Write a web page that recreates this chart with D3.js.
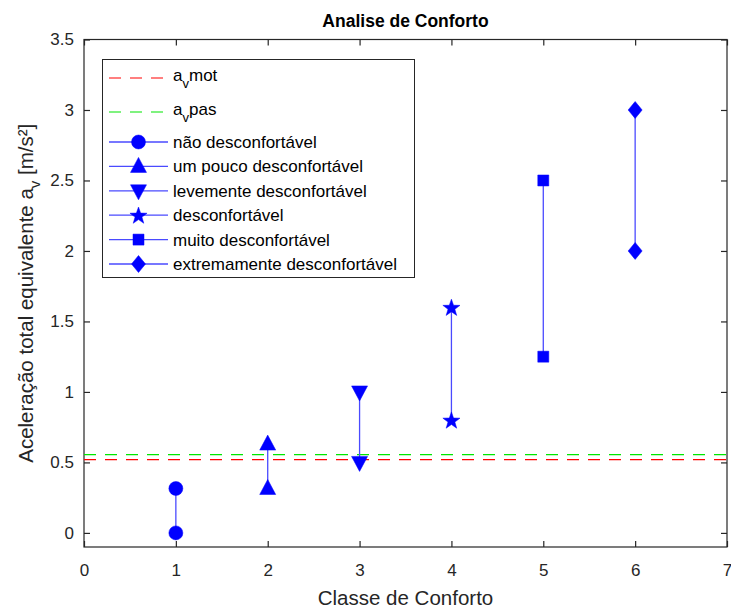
<!DOCTYPE html>
<html>
<head>
<meta charset="utf-8">
<script src="https://cdn.jsdelivr.net/npm/d3@7/dist/d3.min.js"></script>
<style>
  html, body { margin: 0; padding: 0; background: #fff; }
  svg { display: block; font-family: "Liberation Sans", Arial, Helvetica, sans-serif; }
</style>
</head>
<body>
<svg id="chart" width="731" height="611"></svg>
<script>
// Comfort classes and their acceleration ranges (lower, upper) in m/s²
const classes = [1, 2, 3, 4, 5, 6];
const lowerValues = [0, 0.315, 0.5, 0.8, 1.25, 2];
const upperValues = [0.315, 0.63, 1.0, 1.6, 2.5, 3];
const classNames = [
  "não desconfortável",
  "um pouco desconfortável",
  "levemente desconfortável",
  "desconfortável",
  "muito desconfortável",
  "extremamente desconfortável"
];
const markerKinds = ["circle", "triangleUp", "triangleDown", "star", "square", "diamond"];

// Reference acceleration levels
const refNames = ["mot", "pas"];
const refValues = [0.52, 0.555];
const refColors = ["#ff0000", "#00e600"];

const xTicks = [0, 1, 2, 3, 4, 5, 6, 7];
const yTicks = [0, 0.5, 1, 1.5, 2, 2.5, 3, 3.5];

(function draw() {
  const svg = d3.select("#chart");
  const pLeft = 84, pRight = 727, pTop = 39.5, pBottom = 547;

  const x = d3.scaleLinear().domain([0, 7]).range([pLeft, pRight]);
  const y = d3.scaleLinear().domain([-0.1, 3.5]).range([pBottom, pTop]);

  const blue = "#0000ff";
  const lineBlue = "#4a4aff";
  const axisColor = "#262626";

  // Marker path generator, centred on (0,0)
  function markerPath(kind) {
    switch (kind) {
      case "circle": return d3.symbol().type(d3.symbolCircle).size(Math.PI * 7 * 7)();
      case "triangleUp": return "M0,-9L8,6L-8,6Z";
      case "triangleDown": return "M0,9L8,-6L-8,-6Z";
      case "star": {
        const pts = [];
        for (let i = 0; i < 10; i++) {
          const r = i % 2 === 0 ? 9 : 3.6;
          const a = -Math.PI / 2 + i * Math.PI / 5;
          pts.push([r * Math.cos(a), r * Math.sin(a) + 0.8]);
        }
        return "M" + pts.map(p => p.join(",")).join("L") + "Z";
      }
      case "square": return "M-5.5,-5.5L5.5,-5.5L5.5,5.5L-5.5,5.5Z";
      case "diamond": return "M0,-8.5L7,0L0,8.5L-7,0Z";
    }
  }

  // Axes box
  svg.append("rect")
    .attr("x", pLeft).attr("y", pTop)
    .attr("width", pRight - pLeft).attr("height", pBottom - pTop)
    .attr("fill", "none").attr("stroke", axisColor).attr("stroke-width", 1.2);

  // Ticks on all four sides, pointing inward
  const tickLen = 6;
  const gxb = svg.append("g").attr("transform", `translate(0,${pBottom})`)
    .call(d3.axisBottom(x).tickValues(xTicks).tickSizeInner(-tickLen).tickSizeOuter(0).tickPadding(17).tickFormat(d3.format("d")));
  const gxt = svg.append("g").attr("transform", `translate(0,${pTop})`)
    .call(d3.axisTop(x).tickValues(xTicks).tickSizeInner(-tickLen).tickSizeOuter(0).tickFormat(""));
  const gyl = svg.append("g").attr("transform", `translate(${pLeft},0)`)
    .call(d3.axisLeft(y).tickValues(yTicks).tickSizeInner(-tickLen).tickSizeOuter(0).tickPadding(10).tickFormat(d => String(d)));
  const gyr = svg.append("g").attr("transform", `translate(${pRight},0)`)
    .call(d3.axisRight(y).tickValues(yTicks).tickSizeInner(-tickLen).tickSizeOuter(0).tickFormat(""));

  [gxb, gxt, gyl, gyr].forEach(g => {
    g.select(".domain").remove();
    g.selectAll(".tick line").attr("stroke", axisColor).attr("stroke-width", 1.2);
    g.selectAll(".tick text")
      .attr("fill", axisColor)
      .style("font-family", "'Liberation Sans', Arial, sans-serif")
      .style("font-size", "17px");
  });

  // Reference dashed lines
  refValues.forEach((v, i) => {
    svg.append("line")
      .attr("x1", x(0)).attr("x2", x(7))
      .attr("y1", y(v)).attr("y2", y(v))
      .attr("stroke", refColors[i]).attr("stroke-width", 1.2)
      .attr("stroke-dasharray", "12,9");
  });

  // Class ranges: vertical connector plus markers at both ends
  classes.forEach((c, i) => {
    const g = svg.append("g");
    g.append("line")
      .attr("x1", x(c)).attr("x2", x(c))
      .attr("y1", y(lowerValues[i])).attr("y2", y(upperValues[i]))
      .attr("stroke", lineBlue).attr("stroke-width", 1.3);
    [lowerValues[i], upperValues[i]].forEach(v => {
      g.append("path")
        .attr("d", markerPath(markerKinds[i]))
        .attr("transform", `translate(${x(c)},${y(v)})`)
        .attr("fill", blue).attr("stroke", blue).attr("stroke-width", 0.5);
    });
  });

  // Title and axis labels
  svg.append("text")
    .attr("x", (pLeft + pRight) / 2).attr("y", 27)
    .attr("text-anchor", "middle")
    .style("font-size", "17.5px").style("font-weight", "bold")
    .attr("fill", "#000")
    .text("Analise de Conforto");

  svg.append("text")
    .attr("x", (pLeft + pRight) / 2).attr("y", 605)
    .attr("text-anchor", "middle")
    .style("font-size", "20.5px")
    .attr("fill", axisColor)
    .text("Classe de Conforto");

  const yl = svg.append("text")
    .attr("transform", `translate(33,${(pTop + pBottom) / 2}) rotate(-90)`)
    .attr("text-anchor", "middle")
    .style("font-size", "20.5px")
    .attr("fill", axisColor);
  yl.append("tspan").text("Aceleração total equivalente a");
  yl.append("tspan").attr("dy", 7).style("font-size", "15px").text("v");
  yl.append("tspan").attr("dy", -7).text(" [m/s²]");

  // Legend
  const lg = svg.append("g");
  lg.append("rect")
    .attr("x", 102.5).attr("y", 59.5).attr("width", 312).attr("height", 218)
    .attr("fill", "#fff").attr("stroke", axisColor).attr("stroke-width", 1);

  const lx1 = 109, lx2 = 168, tx = 173;
  const refRows = [78, 112];
  refNames.forEach((n, i) => {
    const yy = refRows[i];
    lg.append("line").attr("x1", lx1).attr("x2", lx2).attr("y1", yy).attr("y2", yy)
      .attr("stroke", refColors[i]).attr("stroke-width", 1.2).attr("stroke-dasharray", "12,9");
    const t = lg.append("text").attr("x", tx).attr("y", yy + 3)
      .style("font-size", "17px").attr("fill", "#000");
    t.append("tspan").text("a");
    t.append("tspan").attr("dy", 7).style("font-size", "13px").text("v");
    t.append("tspan").attr("dy", -7).text(n);
  });

  const rowY0 = 142, rowStep = 24.4;
  classNames.forEach((n, i) => {
    const yy = rowY0 + i * rowStep;
    lg.append("line").attr("x1", lx1).attr("x2", lx2).attr("y1", yy).attr("y2", yy)
      .attr("stroke", lineBlue).attr("stroke-width", 1.3);
    lg.append("path").attr("d", markerPath(markerKinds[i]))
      .attr("transform", `translate(${(lx1 + lx2) / 2},${yy})`)
      .attr("fill", blue).attr("stroke", blue).attr("stroke-width", 0.5);
    lg.append("text").attr("x", tx).attr("y", yy + 6)
      .style("font-size", "17px").attr("fill", "#000").text(n);
  });
})();
</script>
</body>
</html>
